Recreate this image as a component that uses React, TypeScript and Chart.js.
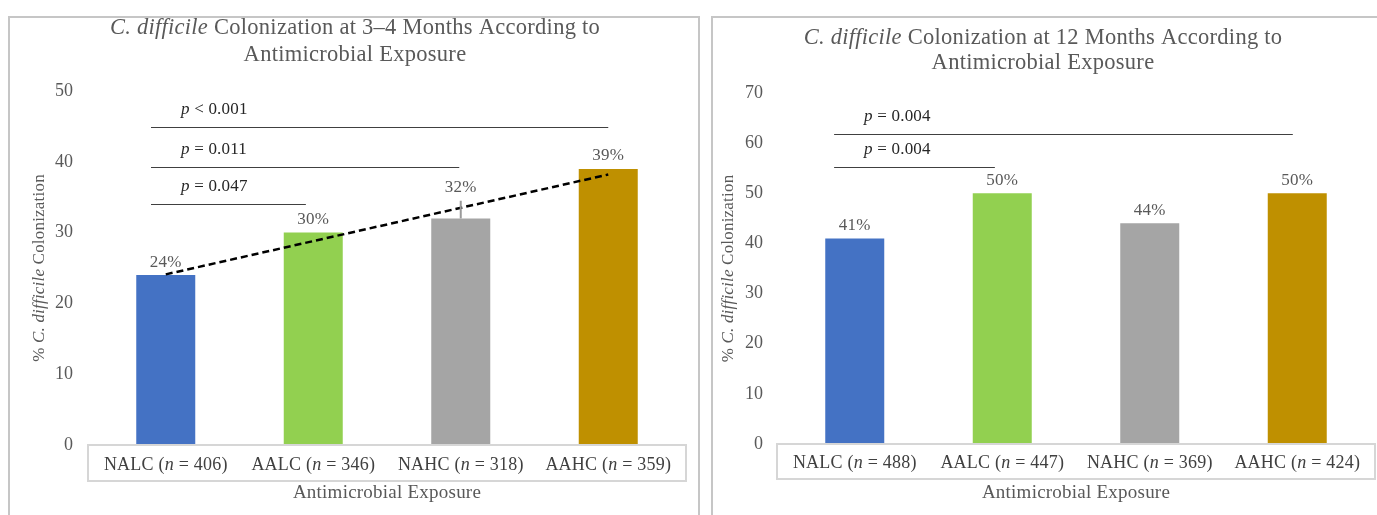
import React, { useEffect, useRef } from 'react';
import { Chart, registerables } from 'chart.js';

Chart.register(...registerables);

// ---------- data ----------
const categories = ['NALC', 'AALC', 'NAHC', 'AAHC'];
const barColors = ['#4472C4', '#92D050', '#A5A5A5', '#BF9000'];

// 3–4 months
const leftN = [406, 346, 318, 359];
const leftValues = [24, 30, 32, 39];
const leftTrend: (number | null)[] = [24.1, null, null, 38.2];
const leftErrorTop: (number | null)[] = [null, null, 34.5, null];
const leftYMax = 50;
const leftSigOps = ['<', '=', '='];
const leftSigP = ['0.001', '0.011', '0.047'];
const leftSigLevels = [44.9, 39.3, 34.1];
const leftSigStart = -0.1;
const leftSigEnds = [3.0, 1.99, 0.95];

// 12 months
const rightN = [488, 447, 369, 424];
const rightValues = [41, 50, 44, 50];
const rightYMax = 70;
const rightSigOps = ['=', '='];
const rightSigP = ['0.004', '0.004'];
const rightSigLevels = [61.9, 55.3];
const rightSigStart = -0.14;
const rightSigEnds = [2.97, 0.95];

const yTickStep = 10;

// ---------- drawing helpers ----------
type Run = { t: string; i?: boolean };

const FAMILY = '"Liberation Serif", "Times New Roman", serif';
function font(size: number, italic?: boolean) {
  return `${italic ? 'italic ' : ''}${size}px ${FAMILY}`;
}

function drawRuns(
  ctx: CanvasRenderingContext2D,
  runs: Run[],
  x: number,
  y: number,
  size: number,
  color: string,
  align: 'left' | 'center' | 'right' = 'center'
) {
  ctx.save();
  ctx.fillStyle = color;
  ctx.textBaseline = 'middle';
  ctx.textAlign = 'left';
  (ctx as any).letterSpacing = `${(size * 0.012).toFixed(2)}px`;
  const widths = runs.map((r) => {
    ctx.font = font(size, r.i);
    return ctx.measureText(r.t).width;
  });
  const total = widths.reduce((a, b) => a + b, 0);
  let cx = align === 'center' ? x - total / 2 : align === 'right' ? x - total : x;
  runs.forEach((r, k) => {
    ctx.font = font(size, r.i);
    ctx.fillText(r.t, cx, y);
    cx += widths[k];
  });
  ctx.restore();
}

interface PanelCfg {
  period: string;
  titleX: number;
  titleY: number[];
  values: number[];
  n: number[];
  yMax: number;
  sigOps: string[];
  sigP: string[];
  sigLevels: number[];
  sigStart: number;
  sigEnds: number[];
  errorTop?: (number | null)[];
  trend?: (number | null)[];
  yTitleX: number;
  xTitleY: number;
  boxH: number;
  yWidth: number;
  tickPad: number;
  padding: { left: number; right: number; top: number; bottom: number };
  width: number;
  height: number;
  left: number;
}

function makeDecor(cfg: PanelCfg) {
  return {
    id: 'decor-' + cfg.period,
    afterDraw(chart: any) {
      const ctx: CanvasRenderingContext2D = chart.ctx;
      const area = chart.chartArea;
      const xs = chart.scales.x;
      const ys = chart.scales.y;
      const grey = '#595959';

      // title
      drawRuns(
        ctx,
        [
          { t: 'C. difficile', i: true },
          { t: ` Colonization at ${cfg.period} Months According to` },
        ],
        cfg.titleX,
        cfg.titleY[0],
        22.5,
        grey
      );
      drawRuns(ctx, [{ t: 'Antimicrobial Exposure' }], cfg.titleX, cfg.titleY[1], 22.5, grey);

      // y-axis title
      ctx.save();
      ctx.translate(cfg.yTitleX, (area.top + area.bottom) / 2);
      ctx.rotate(-Math.PI / 2);
      drawRuns(
        ctx,
        [{ t: '% ' }, { t: 'C. difficile', i: true }, { t: ' Colonization' }],
        0,
        0,
        17,
        grey
      );
      ctx.restore();

      // category box
      ctx.save();
      ctx.strokeStyle = '#D6D6D6';
      ctx.lineWidth = 2;
      ctx.strokeRect(area.left - 4, area.bottom, area.right - area.left + 8, cfg.boxH);
      ctx.restore();

      // category labels
      categories.forEach((c, i) => {
        const x = xs.getPixelForValue(i);
        drawRuns(
          ctx,
          [{ t: `${c} (` }, { t: 'n', i: true }, { t: ` = ${cfg.n[i]})` }],
          x,
          area.bottom + cfg.boxH / 2 + 2,
          18,
          '#404040'
        );
      });

      // x-axis title
      drawRuns(ctx, [{ t: 'Antimicrobial Exposure' }], (area.left + area.right) / 2, cfg.xTitleY, 19, grey);

      // error bar
      if (cfg.errorTop) {
        cfg.errorTop.forEach((v, i) => {
          if (v == null) return;
          const x = xs.getPixelForValue(i);
          ctx.save();
          ctx.strokeStyle = '#9A9A9A';
          ctx.lineWidth = 2;
          ctx.beginPath();
          ctx.moveTo(x, ys.getPixelForValue(cfg.values[i]));
          ctx.lineTo(x, ys.getPixelForValue(v));
          ctx.stroke();
          ctx.restore();
        });
      }

      // data labels (placed above the error bar when there is one)
      const meta = chart.getDatasetMeta(0);
      meta.data.forEach((bar: any, i: number) => {
        let top = bar.y;
        const e = cfg.errorTop ? cfg.errorTop[i] : null;
        if (e != null) top = Math.min(top, ys.getPixelForValue(e));
        drawRuns(ctx, [{ t: `${cfg.values[i]}%` }], bar.x, top - 13, 17, grey);
      });

      // significance lines
      cfg.sigLevels.forEach((lvl, k) => {
        const y = Math.round(ys.getPixelForValue(lvl)) + 0.5;
        const x1 = xs.getPixelForValue(cfg.sigStart);
        const x2 = xs.getPixelForValue(cfg.sigEnds[k]);
        ctx.save();
        ctx.strokeStyle = '#404040';
        ctx.lineWidth = 1;
        ctx.beginPath();
        ctx.moveTo(x1, y);
        ctx.lineTo(x2, y);
        ctx.stroke();
        ctx.restore();
        drawRuns(
          ctx,
          [{ t: 'p', i: true }, { t: ` ${cfg.sigOps[k]} ${cfg.sigP[k]}` }],
          x1 + 30,
          y - 18,
          17,
          '#262626',
          'left'
        );
      });
    },
  };
}

function Panel({ cfg }: { cfg: PanelCfg }) {
  const ref = useRef<HTMLCanvasElement | null>(null);
  useEffect(() => {
    if (!ref.current) return;
    const datasets: any[] = [
      {
        type: 'bar',
        data: cfg.values,
        backgroundColor: barColors,
        borderWidth: 0,
        categoryPercentage: 1,
        barPercentage: 0.4,
        order: 1,
      },
    ];
    if (cfg.trend) {
      datasets.push({
        type: 'line',
        data: cfg.trend,
        spanGaps: true,
        borderColor: '#000000',
        borderWidth: 2.5,
        borderDash: [7, 4],
        pointRadius: 0,
        fill: false,
        order: 0,
      });
    }
    const chart = new Chart(ref.current, {
      type: 'bar',
      data: { labels: categories, datasets },
      options: {
        responsive: false,
        animation: false,
        devicePixelRatio: 1,
        layout: { padding: cfg.padding },
        plugins: { legend: { display: false }, tooltip: { enabled: false }, title: { display: false } },
        scales: {
          x: {
            type: 'category',
            offset: true,
            grid: { display: false, drawTicks: false },
            border: { display: false },
            ticks: { display: false },
            afterFit: (s: any) => {
              s.height = 0;
            },
          },
          y: {
            min: 0,
            max: cfg.yMax,
            grid: { display: false, drawTicks: false },
            border: { display: false },
            ticks: {
              stepSize: yTickStep,
              padding: cfg.tickPad,
              color: '#595959',
              font: { family: FAMILY, size: 18 },
            },
            afterFit: (s: any) => {
              s.width = cfg.yWidth;
            },
          },
        },
      } as any,
      plugins: [makeDecor(cfg)],
    });
    return () => chart.destroy();
  }, [cfg]);
  return (
    <canvas
      ref={ref}
      width={cfg.width}
      height={cfg.height}
      style={{ position: 'absolute', left: cfg.left, top: 0, width: cfg.width, height: cfg.height }}
    />
  );
}

const leftCfg: PanelCfg = {
  period: '3–4',
  titleX: 355,
  titleY: [28, 55],
  values: leftValues,
  n: leftN,
  yMax: leftYMax,
  sigOps: leftSigOps,
  sigP: leftSigP,
  sigLevels: leftSigLevels,
  sigStart: leftSigStart,
  sigEnds: leftSigEnds,
  errorTop: leftErrorTop,
  trend: leftTrend,
  yTitleX: 40,
  xTitleY: 493,
  boxH: 36,
  yWidth: 92,
  tickPad: 19,
  padding: { left: 0, right: 18, top: 91, bottom: 70 },
  width: 700,
  height: 515,
  left: 0,
};

const rightCfg: PanelCfg = {
  period: '12',
  titleX: 343,
  titleY: [38, 63],
  values: rightValues,
  n: rightN,
  yMax: rightYMax,
  sigOps: rightSigOps,
  sigP: rightSigP,
  sigLevels: rightSigLevels,
  sigStart: rightSigStart,
  sigEnds: rightSigEnds,
  yTitleX: 29,
  xTitleY: 493,
  boxH: 35,
  yWidth: 81,
  tickPad: 18,
  padding: { left: 0, right: 6, top: 93, bottom: 71 },
  width: 677,
  height: 515,
  left: 700,
};

export default function App() {
  return (
    <div
      style={{
        position: 'absolute',
        left: 0,
        top: 0,
        width: 1377,
        height: 515,
        overflow: 'hidden',
        background: '#ffffff',
      }}
    >
      <div
        style={{
          position: 'absolute',
          left: 8,
          top: 16,
          width: 688,
          height: 520,
          border: '2px solid #C6C6C6',
        }}
      />
      <div
        style={{
          position: 'absolute',
          left: 711,
          top: 16,
          width: 700,
          height: 520,
          border: '2px solid #C6C6C6',
        }}
      />
      <Panel cfg={leftCfg} />
      <Panel cfg={rightCfg} />
    </div>
  );
}
